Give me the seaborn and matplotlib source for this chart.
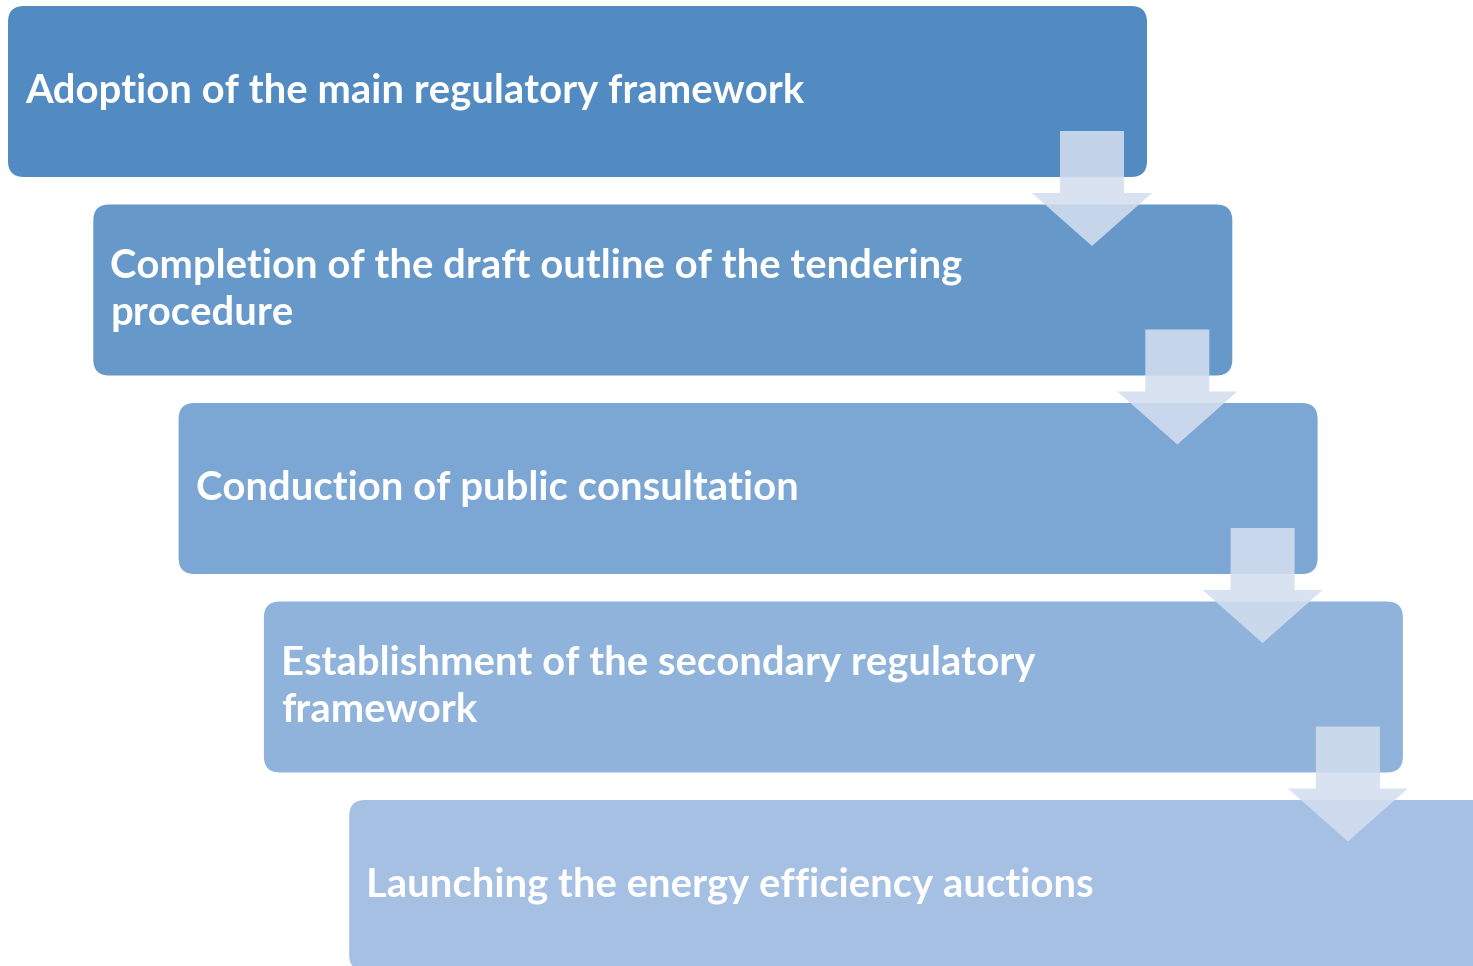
import matplotlib.pyplot as plt
import seaborn as sns
from matplotlib.patches import FancyBboxPatch, Polygon

sns.set_theme(style="white")
plt.rcParams['font.family'] = ['Lato', 'DejaVu Sans']

# steps of the process, top to bottom
steps = [
    "Adoption of the main regulatory framework",
    "Completion of the draft outline of the tendering\nprocedure",
    "Conduction of public consultation",
    "Establishment of the secondary regulatory\nframework",
    "Launching the energy efficiency auctions",
]
box_colors = sns.blend_palette(["#528BC2", "#A5C0E3"], len(steps))

W, H = 1473, 966
fig = plt.figure(figsize=(W / 100, H / 100), dpi=100)
ax = fig.add_axes([0, 0, 1, 1])
ax.set_xlim(0, W)
ax.set_ylim(H, 0)
ax.axis("off")

box_w, box_h = 1139, 171
dx, dy = 85.3, 198.5
x0, y0 = 8, 6

for i, (label, col) in enumerate(zip(steps, box_colors)):
    x = x0 + i * dx
    y = y0 + i * dy
    ax.add_patch(FancyBboxPatch((x, y), box_w, box_h,
                                boxstyle="round,pad=0,rounding_size=16",
                                fc=col, ec="none", zorder=1))
    ax.text(x + 17, y + box_h / 2, label, color="white", fontsize=28.8,
            fontweight="bold", va="center", ha="left", linespacing=1.34,
            zorder=3)

# arrows between steps
for i in range(len(steps) - 1):
    r = x0 + i * dx + box_w
    b = y0 + i * dy + box_h
    cx = r - 55
    pts = [(cx - 32, b - 46), (cx + 32, b - 46), (cx + 32, b + 16),
           (cx + 60, b + 16), (cx, b + 69), (cx - 60, b + 16),
           (cx - 32, b + 16)]
    ax.add_patch(Polygon(pts, closed=True, fc="#D3DEEF", ec="none",
                         alpha=0.88, zorder=2))

fig.savefig("out.png", dpi=100)
